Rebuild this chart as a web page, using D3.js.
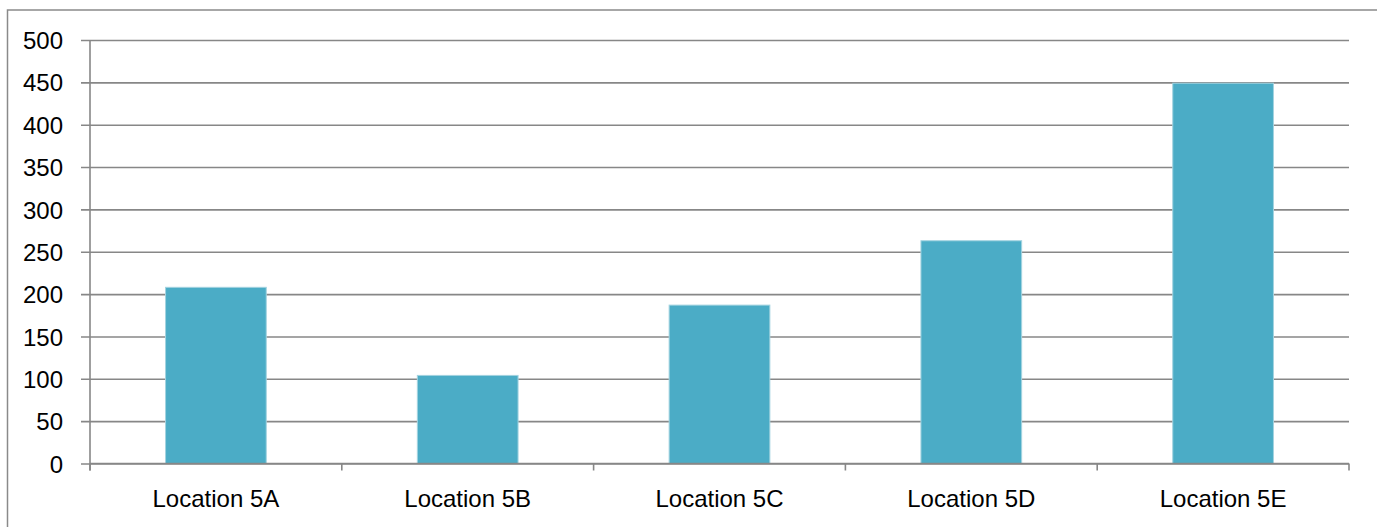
<!DOCTYPE html>
<html>
<head>
<meta charset="utf-8">
<script src="https://cdn.jsdelivr.net/npm/d3@7"></script>
<style>
  body { margin: 0; background: #fff; }
  svg text { font-family: "Liberation Sans", Arial, sans-serif; fill: #000; }
</style>
</head>
<body>
<div id="chart"></div>
<script>
// data
const categories = ["Location 5A", "Location 5B", "Location 5C", "Location 5D", "Location 5E"];
const values = [208, 104, 187, 263, 449];
const yTicks = [0, 50, 100, 150, 200, 250, 300, 350, 400, 450, 500];

const W = 1377, H = 527;
const margin = { left: 90, right: 28, top: 40, bottom: 63.5 };
const width = W - margin.left - margin.right;
const height = H - margin.top - margin.bottom;

const svg = d3.select("#chart").append("svg")
  .attr("width", W)
  .attr("height", H);

// outer frame (only top + left show in the picture)
svg.append("rect")
  .attr("x", 7.5).attr("y", 10)
  .attr("width", W + 20).attr("height", H + 20)
  .attr("fill", "none")
  .attr("stroke", "#8a8a8a")
  .attr("stroke-width", 1.5);

const x = d3.scaleBand()
  .domain(categories)
  .range([0, width])
  .paddingInner(0.6)
  .paddingOuter(0.3);

const y = d3.scaleLinear()
  .domain([0, 500])
  .range([height, 0]);

const g = svg.append("g")
  .attr("transform", `translate(${margin.left},${margin.top})`);

// gridlines + y labels
const yAxis = d3.axisLeft(y)
  .tickValues(yTicks)
  .tickSizeInner(-width)
  .tickSizeOuter(0)
  .tickPadding(27);

const ya = g.append("g").attr("class", "axis y").call(yAxis);
ya.select(".domain").remove();
ya.selectAll(".tick line")
  .attr("x1", -9)
  .attr("stroke", "#878787")
  .attr("stroke-width", 1.6);
ya.selectAll(".tick text")
  .attr("font-size", 24)
  .attr("dy", "0.36em");

// bars
g.append("g").attr("class", "bars")
  .selectAll("rect")
  .data(values)
  .enter().append("rect")
    .attr("x", (d, i) => x(categories[i]))
    .attr("y", d => y(d))
    .attr("width", x.bandwidth())
    .attr("height", d => height - y(d))
    .attr("fill", "#4bacc6")
    .attr("stroke", "#a3d3e0")
    .attr("stroke-width", 1);

// y axis line
g.append("line")
  .attr("x1", 0).attr("x2", 0)
  .attr("y1", 0).attr("y2", height + 7)
  .attr("stroke", "#878787")
  .attr("stroke-width", 1.6);

// x axis: baseline, ticks at band boundaries, labels
const xa = g.append("g").attr("transform", `translate(0,${height})`);
xa.append("line")
  .attr("x1", 0).attr("x2", width)
  .attr("stroke", "#878787")
  .attr("stroke-width", 1.6);

const bounds = d3.range(categories.length + 1).map(i => i * x.step());
xa.selectAll("line.tk")
  .data(bounds)
  .enter().append("line")
    .attr("class", "tk")
    .attr("x1", d => d).attr("x2", d => d)
    .attr("y1", 0).attr("y2", 7)
    .attr("stroke", "#878787")
    .attr("stroke-width", 1.6);

xa.selectAll("text")
  .data(categories)
  .enter().append("text")
    .attr("x", d => x(d) + x.bandwidth() / 2)
    .attr("y", 43)
    .attr("text-anchor", "middle")
    .attr("font-size", 24)
    .text(d => d);
</script>
</body>
</html>
